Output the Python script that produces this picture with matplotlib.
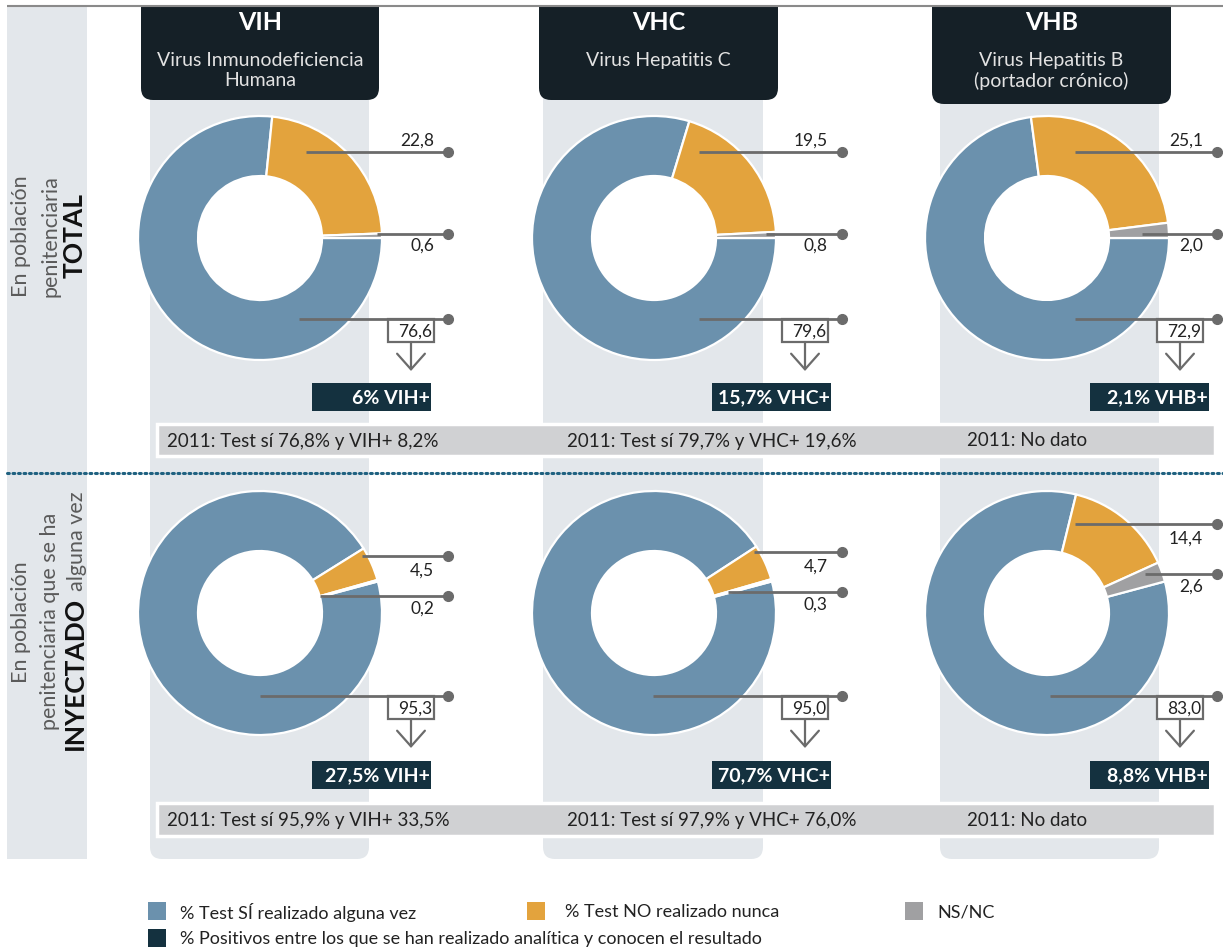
import matplotlib
matplotlib.use('Agg')
import matplotlib.pyplot as plt
from matplotlib.patches import Rectangle, FancyBboxPatch, Circle

plt.rcParams['font.family'] = ['Lato', 'DejaVu Sans']

# ---------------- data ----------------
viruses = ['VIH', 'VHC', 'VHB']
subtitles = ['Virus Inmunodeficiencia\nHumana', 'Virus Hepatitis C',
             'Virus Hepatitis B\n(portador crónico)']
test_si_total = [76.6, 79.6, 72.9]
test_no_total = [22.8, 19.5, 25.1]
nsnc_total = [0.6, 0.8, 2.0]
test_si_iny = [95.3, 95.0, 83.0]
test_no_iny = [4.5, 4.7, 14.4]
nsnc_iny = [0.2, 0.3, 2.6]
positivos_total = [6, 15.7, 2.1]
positivos_iny = [27.5, 70.7, 8.8]
notes_total = ['2011: Test sí 76,8% y VIH+ 8,2%', '2011: Test sí 79,7% y VHC+ 19,6%', '2011: No dato']
notes_iny = ['2011: Test sí 95,9% y VIH+ 33,5%', '2011: Test sí 97,9% y VHC+ 76,0%', '2011: No dato']
legend_labels = ['% Test SÍ realizado alguna vez', '% Test NO realizado nunca', 'NS/NC',
                 '% Positivos entre los que se han realizado analítica y conocen el resultado']

# ---------------- style ----------------
BLUE = '#6b91ad'
ORANGE = '#e3a33d'
GRAY = '#a0a0a2'
NAVY = '#14313f'
HEAD = '#152027'
PANEL = '#e3e7eb'
BAR = '#d0d1d3'
LINE = '#6b6b6b'
TXT = '#222222'

W, H = 1223, 952
fig = plt.figure(figsize=(W / 100, H / 100), dpi=100)
ax = fig.add_axes([0, 0, 1, 1])
ax.set_xlim(0, W)
ax.set_ylim(H, 0)
ax.axis('off')


def fmt1(v):
    return ('%.1f' % v).replace('.', ',')


def fmtg(v):
    return ('%g' % v).replace('.', ',')


# layout
pie_cx = [260, 654, 1047]
row_cy = [238, 613]
R = 122
RING = 60
dot_x = [448, 842, 1217]
head_x = [(141, 379), (539, 778), (932, 1171)]
head_bottom = [100, 100, 104]
col_x = [(150, 369), (543, 763), (940, 1159)]
navy_left = [312, 712, 1090]
start_ang = [0, 15]
line_y = [[[152, 234, 319]] * 3,
          [[556, 596, 696], [552, 592, 696], [524, 574, 696]]]
line_x0 = [[[306, 377, 299], [699, 766, 699], [1075, 1142, 1075]],
           [[362, 320, 260], [754, 728, 653], [1075, 1145, 1050]]]
navy_y = [383, 761]
bar_y = [(424, 456), (803, 836)]
note_x = [167, 567, 967]

# top rule
ax.plot([7, W], [6, 6], color='#8a8a8a', lw=1.5, zorder=6, solid_capstyle='butt')

# left panel
ax.add_patch(Rectangle((7, 6), 80, 853, fc=PANEL, ec='none', zorder=0))

# column backgrounds and headers
for c in range(3):
    x0, x1 = col_x[c]
    ax.add_patch(FancyBboxPatch((x0, 60), x1 - x0, 859 - 60,
                                boxstyle='round,pad=0,rounding_size=12',
                                fc=PANEL, ec='none', zorder=0))
    hx0, hx1 = head_x[c]
    ax.add_patch(FancyBboxPatch((hx0, 6), hx1 - hx0, head_bottom[c] - 6,
                                boxstyle='round,pad=0,rounding_size=12',
                                fc=HEAD, ec='none', zorder=2))
    ax.add_patch(Rectangle((hx0, 6), hx1 - hx0, 30, fc=HEAD, ec='none', zorder=2))
    hc = (hx0 + hx1) / 2
    ax.text(hc, 23, viruses[c], ha='center', va='center', color='white',
            fontsize=18, fontweight='bold', zorder=3)
    ax.text(hc, 52, subtitles[c], ha='center', va='top', color='#e2e2e2',
            fontsize=14, fontweight='normal', linespacing=1.2, zorder=3)

# 2011 bars
for r in range(2):
    y0, y1 = bar_y[r]
    ax.add_patch(Rectangle((157, y0), 1215 - 157, y1 - y0, fc=BAR, ec='white', lw=2.5, zorder=2))
    notes = notes_total if r == 0 else notes_iny
    for c in range(3):
        ax.text(note_x[c], (y0 + y1) / 2 + 1, notes[c], ha='left', va='center',
                fontsize=13.5, color=TXT, zorder=3)

# dotted separator
ax.plot([7, W], [473, 473], color='#1f6180', lw=2.2, linestyle=(0, (0.6, 1.2)),
        dash_capstyle='round', zorder=6)

# pies
series = [(test_si_total, test_no_total, nsnc_total, positivos_total),
          (test_si_iny, test_no_iny, nsnc_iny, positivos_iny)]
for r in range(2):
    si, no, ns, pos = series[r]
    for c in range(3):
        cx, cy = pie_cx[c], row_cy[r]
        ax.add_patch(Circle((cx, cy), R - RING, fc='white', ec='none', zorder=2.5))
        ax.pie([si[c], no[c], ns[c]], colors=[BLUE, ORANGE, GRAY], radius=R,
               center=(cx, cy), startangle=-start_ang[r], counterclock=True,
               wedgeprops=dict(width=RING, edgecolor='white', linewidth=1.6, zorder=3))
        ys = line_y[r][c]
        xs = line_x0[r][c]
        dx = dot_x[c]
        for k in range(3):
            ax.plot([xs[k], dx], [ys[k], ys[k]], color=LINE, lw=2, zorder=6,
                    solid_capstyle='butt')
            ax.plot([dx], [ys[k]], 'o', ms=7, color=LINE, zorder=6)
        # labels
        if r == 0:
            ax.text(dx - 14, ys[0] - 11, fmt1(no[c]), ha='right', va='center',
                    fontsize=12.5, color=TXT, zorder=6)
            ax.text(dx - 14, ys[1] + 12, fmt1(ns[c]), ha='right', va='center',
                    fontsize=12.5, color=TXT, zorder=6)
        else:
            ax.text(dx - 14, ys[0] + 15, fmt1(no[c]), ha='right', va='center',
                    fontsize=12.5, color=TXT, zorder=6)
            ax.text(dx - 14, ys[1] + 13, fmt1(ns[c]), ha='right', va='center',
                    fontsize=12.5, color=TXT, zorder=6)
        # boxed value + arrow
        bx0, bw, bh = dx - 60, 46, 23
        ax.add_patch(Rectangle((bx0, ys[2]), bw, bh, fc='white', ec=LINE, lw=1.6, zorder=5))
        ax.text(bx0 + bw - 2, ys[2] + bh / 2 + 1, fmt1(si[c]), ha='right', va='center',
                fontsize=12.5, color=TXT, zorder=6)
        ax.annotate('', xy=(bx0 + bw / 2, ys[2] + 52), xytext=(bx0 + bw / 2, ys[2] + bh),
                    arrowprops=dict(arrowstyle='->,head_length=0.45,head_width=0.4',
                                    lw=1.6, color=LINE, mutation_scale=25,
                                    shrinkA=0, shrinkB=0), zorder=6)
        # positives box
        nl = navy_left[c]
        ax.add_patch(Rectangle((nl, navy_y[r]), 119, 28, fc=NAVY, ec='none', zorder=5))
        ax.text(nl + 118, navy_y[r] + 15, '%s%% %s+' % (fmtg(pos[c]), viruses[c]),
                ha='right', va='center', fontsize=14, fontweight='bold',
                color='white', zorder=6)

ax.set_xlim(0, W)
ax.set_ylim(H, 0)
ax.set_aspect('auto')
ax.axis('off')

# left rotated labels
renderer = fig.canvas.get_renderer()
side_light = dict(rotation=90, rotation_mode='anchor', va='baseline',
                  fontsize=15.5, fontweight='normal', color='#5a5a5a', zorder=6)
side_bold = dict(rotation=90, rotation_mode='anchor', va='baseline',
                 fontsize=19, fontweight='bold', color='#111111', zorder=6)
ax.text(27, 236, 'En población', ha='center', **side_light)
ax.text(56, 236, 'penitenciaria', ha='center', **side_light)
ax.text(83, 236, 'TOTAL', ha='center', **side_bold)

ax.text(27, 622, 'En población', ha='center', **side_light)
ax.text(56, 621, 'penitenciaria que se ha', ha='center', **side_light)
t1 = ax.text(83, 0, 'INYECTADO', ha='left', **side_bold)
t2 = ax.text(83, 0, 'alguna vez', ha='left', **side_light)
h1 = t1.get_window_extent(renderer).height
h2 = t2.get_window_extent(renderer).height
gap = 6
total = h1 + gap + h2
ystart = 621 + total / 2
t1.set_position((83, ystart))
t2.set_position((83, ystart - h1 - gap))

# legend
leg_sq = [(148, 902, BLUE), (527, 902, ORANGE), (905, 902, GRAY), (148, 929, NAVY)]
leg_tx = [180, 565, 937, 180]
for (sx, sy, col), tx, lab in zip(leg_sq, leg_tx, legend_labels):
    ax.add_patch(Rectangle((sx, sy), 18, 18, fc=col, ec='none', zorder=3))
    ax.text(tx, sy + 10, lab, ha='left', va='center', fontsize=13, color=TXT, zorder=3)

fig.savefig('out.png', dpi=100)
